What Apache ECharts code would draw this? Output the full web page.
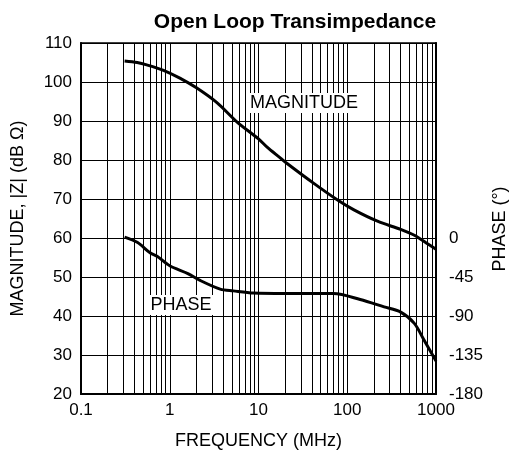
<!DOCTYPE html>
<html>
<head>
  <meta charset="utf-8" />
  <title>Open Loop Transimpedance</title>
  <script src="https://cdn.jsdelivr.net/npm/echarts@6/dist/echarts.min.js"></script>
  <style>
    html, body { margin: 0; padding: 0; background: #fff; }
  </style>
</head>
<body>
<div id="main" style="width: 512px;height:455px;"></div>
<script type="text/javascript">
  // magnitude curve (MHz, dB ohm)
  var magFreq = [0.31, 0.43, 0.55, 0.85, 1.3, 2.0, 3.4, 5.7, 10, 12.5, 17.7, 21, 42, 77, 119, 219, 400, 570, 770, 1000];
  var magDb = [105.4, 105.0, 104.4, 103.0, 101.0, 98.5, 94.7, 89.8, 85.4, 83.3, 80.5, 79.1, 74.0, 69.8, 67.2, 64.3, 62.2, 60.7, 58.8, 57.1];
  // phase curve (MHz, degrees)
  var phaseFreq = [0.31, 0.43, 0.6, 0.72, 1.0, 1.6, 2.2, 3.7, 5.2, 8.8, 20, 40, 70, 140, 260, 400, 570, 730, 1000];
  var phaseDeg = [1, -5, -17, -21, -32, -41, -49, -59, -61, -63.5, -64, -64, -64, -71, -79.5, -85.5, -98.5, -117.5, -142];
  // vertical grid lines (2..9 in each decade)
  var gridFreqs = [];
  [0.1, 1, 10, 100].forEach(function (d) {
    for (var k = 2; k <= 9; k++) gridFreqs.push(+(d * k).toPrecision(3));
  });
  var font = 'Liberation Sans, Arial, sans-serif';

  var myChart = echarts.init(document.getElementById('main'));
  var magData = magFreq.map(function (f, i) { return [f, magDb[i]]; });
  var phaseData = phaseFreq.map(function (f, i) { return [f, phaseDeg[i]]; });

  var option = {
    backgroundColor: '#fff',
    animation: false,
    textStyle: { fontFamily: font },
    title: {
      text: 'Open Loop Transimpedance',
      left: 290, top: 7, textAlign: 'center',
      textStyle: { fontFamily: font, fontSize: 21, fontWeight: 'bold', color: '#000' }
    },
    grid: {
      left: 81, right: 76, top: 43, bottom: 57,
      show: true, borderColor: '#000', borderWidth: 1.5, backgroundColor: 'transparent'
    },
    xAxis: {
      type: 'log', logBase: 10, min: 0.1, max: 1000,
      name: 'FREQUENCY (MHz)', nameLocation: 'middle', nameGap: 38,
      nameTextStyle: { fontFamily: font, fontSize: 18, color: '#000' },
      axisLine: { onZero: false, lineStyle: { color: '#000', width: 2 } },
      axisTick: { show: false },
      axisLabel: {
        fontFamily: font, fontSize: 17, color: '#000', margin: 8,
        formatter: function (v) { return String(v); }
      },
      splitLine: { show: true, lineStyle: { color: '#000', width: 1 } }
    },
    yAxis: [
      {
        type: 'value', min: 20, max: 110, interval: 10,
        name: 'MAGNITUDE, |Z| (dB \u03A9)', nameLocation: 'middle', nameGap: 54,
        nameTextStyle: { fontFamily: font, fontSize: 18, color: '#000' },
        axisLine: { show: true, onZero: false, lineStyle: { color: '#000', width: 2 } },
        axisTick: { show: false },
        axisLabel: { fontFamily: font, fontSize: 17, color: '#000', margin: 9 },
        splitLine: { show: true, lineStyle: { color: '#000', width: 1 } }
      },
      {
        type: 'value', min: -180, max: 225, interval: 45, position: 'right',
        axisLine: { show: true, onZero: false, lineStyle: { color: '#000', width: 2 } },
        axisTick: { show: false },
        axisLabel: {
          fontFamily: font, fontSize: 17, color: '#000', margin: 13,
          formatter: function (v) { return v <= 0 ? String(v) : ''; }
        },
        splitLine: { show: false }
      }
    ],
    graphic: [
      {
        type: 'text', x: 500, y: 229, rotation: Math.PI / 2,
        style: { text: 'PHASE (\u00B0)', fontFamily: font, fontSize: 18, fill: '#000', align: 'center', verticalAlign: 'middle' }
      },
      {
        type: 'text', x: 304, y: 103, z: 100,
        style: {
          text: 'MAGNITUDE', fontFamily: font, fontSize: 18, fill: '#000', align: 'center', verticalAlign: 'middle',
          backgroundColor: '#fff', padding: [1, 2]
        }
      },
      {
        type: 'text', x: 181, y: 305, z: 100,
        style: {
          text: 'PHASE', fontFamily: font, fontSize: 18, fill: '#000', align: 'center', verticalAlign: 'middle',
          backgroundColor: '#fff', padding: [1, 2]
        }
      }
    ],
    series: [
      {
        type: 'line', data: [], silent: true,
        markLine: {
          silent: true, symbol: 'none', label: { show: false },
          lineStyle: { color: '#000', width: 1, type: 'solid' },
          data: gridFreqs.map(function (f) { return { xAxis: f }; })
        }
      },
      {
        type: 'line', data: magData, showSymbol: false, smooth: 0.3, z: 5,
        lineStyle: { color: '#000', width: 3 }
      },
      {
        type: 'line', data: phaseData, yAxisIndex: 1, showSymbol: false, smooth: 0.3, z: 5,
        lineStyle: { color: '#000', width: 3 }
      }
    ]
  };
  option && myChart.setOption(option);
</script>
</body>
</html>
